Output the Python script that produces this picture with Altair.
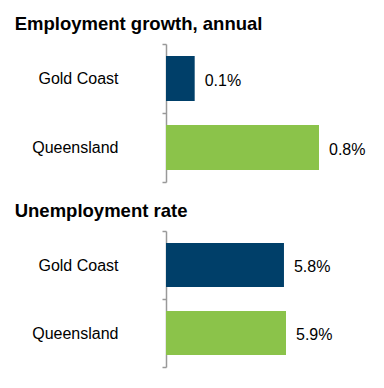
import altair as alt
import pandas as pd

regions = ["Gold Coast", "Queensland"]
emp_growth = [0.15, 0.8]
emp_labels = ["0.1%", "0.8%"]
unemp_rate = [5.8, 5.9]
unemp_labels = ["5.8%", "5.9%"]
bar_colors = ["#003F69", "#8BC34A"]

FONT = "Liberation Sans"


def panel(title, values, labels, xmax, h):
    df = pd.DataFrame({"region": regions, "value": values, "label": labels})
    y = alt.Y("region:N", sort=regions, title=None,
              scale=alt.Scale(paddingInner=0, paddingOuter=0),
              axis=alt.Axis(labelFontSize=16, labelColor="#000", labelFont=FONT,
                            labelPadding=44, tickSize=4, tickColor="#999",
                            domainColor="#999", domainWidth=1.5, tickWidth=1.5,
                            tickBand="extent"))
    x = alt.X("value:Q", scale=alt.Scale(domain=[0, xmax]), axis=None)
    bars = alt.Chart(df).mark_bar(height={"band": 0.65}).encode(
        y=y, x=x,
        color=alt.Color("region:N", scale=alt.Scale(domain=regions, range=bar_colors), legend=None),
    )
    text = alt.Chart(df).mark_text(align="left", baseline="middle", dx=10, dy=2,
                                   fontSize=16, font=FONT, color="#000").encode(
        y=alt.Y("region:N", sort=regions), x=x, text="label:N")
    return alt.layer(bars, text).properties(
        width=200, height=h,
        title=alt.TitleParams(title, anchor="start", fontSize=18.5, font=FONT,
                              fontWeight="bold", color="#000", dx=-17, offset=3),
    )


p1 = panel("Employment growth, annual", emp_growth, emp_labels, 0.8 * 200 / 153, 138)
p2 = panel("Unemployment rate", unemp_rate, unemp_labels, 5.9 * 200 / 120, 136)

chart = alt.vconcat(p1, p2, spacing=18).configure_view(stroke=None).properties(
    padding={"left": 14, "top": 14, "right": 5, "bottom": 5}
)

chart.save("out.html", embed_options={"renderer": "svg", "actions": False})
